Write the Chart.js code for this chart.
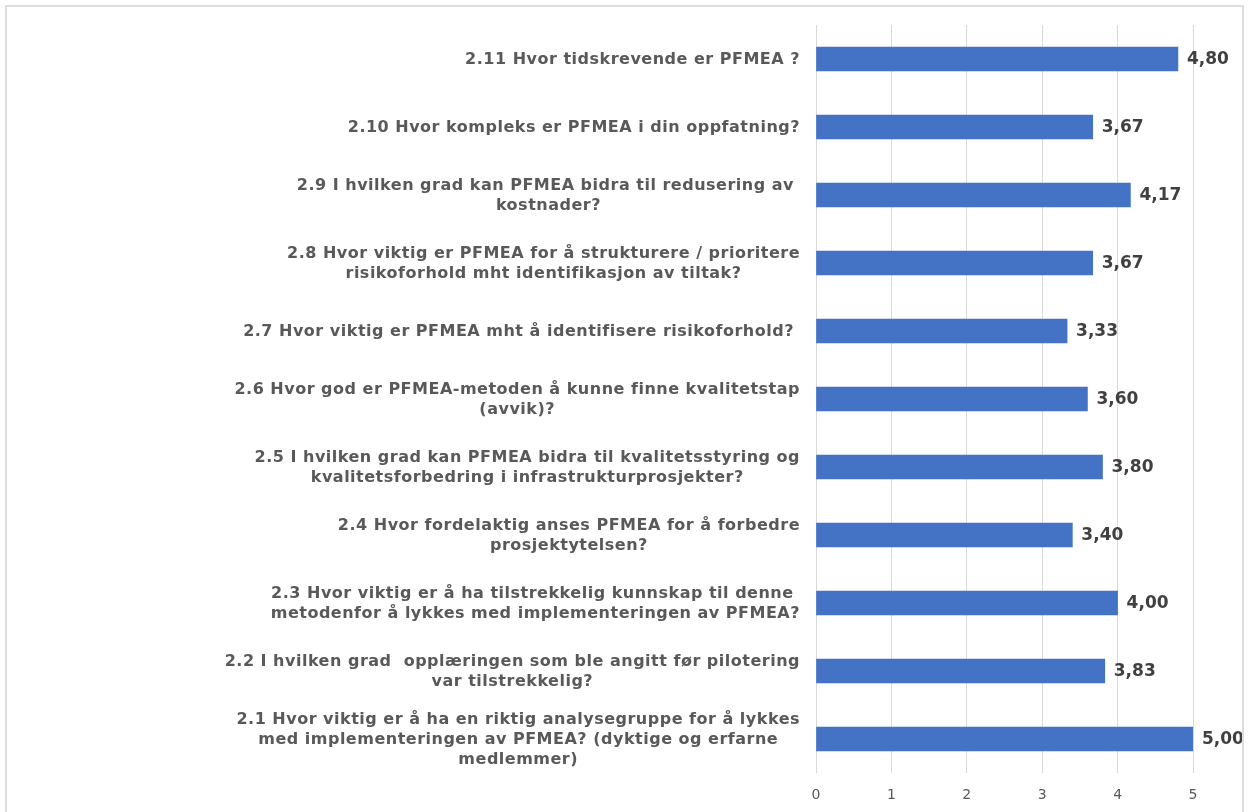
<!DOCTYPE html>
<html>
<head>
<meta charset="utf-8">
<script src="https://cdn.jsdelivr.net/npm/chart.js@4"></script>
<style>
  html, body { margin: 0; padding: 0; background: #fff; }
  #wrap { position: relative; width: 1248px; height: 812px; overflow: hidden; }
  #frame { position: absolute; left: 5px; top: 5px; width: 1239px; height: 830px; border: 2px solid #DEDEDE; box-sizing: border-box; pointer-events: none; }
  canvas { position: absolute; left: 0; top: 0; }
</style>
</head>
<body>
<div id="wrap">
  <canvas id="c" width="1248" height="812"></canvas>
  <div id="frame"></div>
</div>
<script>
const categories = [
  ["2.11 Hvor tidskrevende er PFMEA ?"],
  ["2.10 Hvor kompleks er PFMEA i din oppfatning?"],
  ["2.9 I hvilken grad kan PFMEA bidra til redusering av ", "kostnader?"],
  ["2.8 Hvor viktig er PFMEA for å strukturere / prioritere", "risikoforhold mht identifikasjon av tiltak?"],
  ["2.7 Hvor viktig er PFMEA mht å identifisere risikoforhold? "],
  ["2.6 Hvor god er PFMEA-metoden å kunne finne kvalitetstap", "(avvik)?"],
  ["2.5 I hvilken grad kan PFMEA bidra til kvalitetsstyring og", "kvalitetsforbedring i infrastrukturprosjekter?"],
  ["2.4 Hvor fordelaktig anses PFMEA for å forbedre", "prosjektytelsen?"],
  ["2.3 Hvor viktig er å ha tilstrekkelig kunnskap til denne ", "metodenfor å lykkes med implementeringen av PFMEA?"],
  ["2.2 I hvilken grad  opplæringen som ble angitt før pilotering", "var tilstrekkelig?"],
  ["2.1 Hvor viktig er å ha en riktig analysegruppe for å lykkes", "med implementeringen av PFMEA? (dyktige og erfarne", "medlemmer)"]
];
const values = [4.80, 3.67, 4.17, 3.67, 3.33, 3.60, 3.80, 3.40, 4.00, 3.83, 5.00];
const xTicks = [0, 1, 2, 3, 4, 5];

const FONT = "'DejaVu Sans', Verdana, sans-serif";

const catLabelPlugin = {
  id: 'catLabels',
  afterDraw(chart) {
    const ctx = chart.ctx;
    const ys = chart.scales.y;
    ctx.save();
    ctx.font = "bold 16px " + FONT;
    ctx.letterSpacing = '0.5px';
    ctx.fillStyle = '#595959';
    ctx.textAlign = 'center';
    ctx.textBaseline = 'middle';
    const rightX = 800;
    const lh = 20;
    categories.forEach((lines, i) => {
      const y = ys.getPixelForTick(i);
      let w = 0;
      lines.forEach(l => { w = Math.max(w, ctx.measureText(l).width); });
      const cx = rightX - w / 2;
      const y0 = y - (lines.length - 1) * lh / 2 + 1;
      lines.forEach((l, k) => ctx.fillText(l, cx, y0 + k * lh));
    });
    ctx.restore();
  }
};

const valueLabelPlugin = {
  id: 'valueLabels',
  afterDatasetsDraw(chart) {
    const ctx = chart.ctx;
    const meta = chart.getDatasetMeta(0);
    ctx.save();
    ctx.font = "bold 17px " + FONT;
    ctx.fillStyle = '#404040';
    ctx.textAlign = 'left';
    ctx.textBaseline = 'middle';
    meta.data.forEach((bar, i) => {
      ctx.fillText(values[i].toFixed(2).replace('.', ','), bar.x + 9, bar.y + 1);
    });
    ctx.restore();
  }
};

new Chart(document.getElementById('c'), {
  type: 'bar',
  data: {
    labels: categories,
    datasets: [{
      data: values,
      backgroundColor: '#4472C4',
      borderWidth: 0,
      barThickness: 24
    }]
  },
  options: {
    indexAxis: 'y',
    responsive: false,
    animation: false,
    layout: { padding: { top: 25, right: 55, left: 0, bottom: 0 } },
    plugins: { legend: { display: false }, tooltip: { enabled: false } },
    scales: {
      x: {
        min: 0, max: 5,
        afterBuildTicks(s) { s.ticks = xTicks.map(v => ({ value: v })); },
        grid: { color: '#D9D9D9', lineWidth: 1, drawTicks: false },
        border: { display: false },
        ticks: { color: '#595959', font: { family: FONT, size: 14 }, padding: 14 },
        afterFit(s) { s.height = 39; }
      },
      y: {
        grid: { display: false },
        border: { display: false },
        ticks: { display: false },
        afterFit(s) { s.width = 816; }
      }
    }
  },
  plugins: [catLabelPlugin, valueLabelPlugin]
});
</script>
</body>
</html>
